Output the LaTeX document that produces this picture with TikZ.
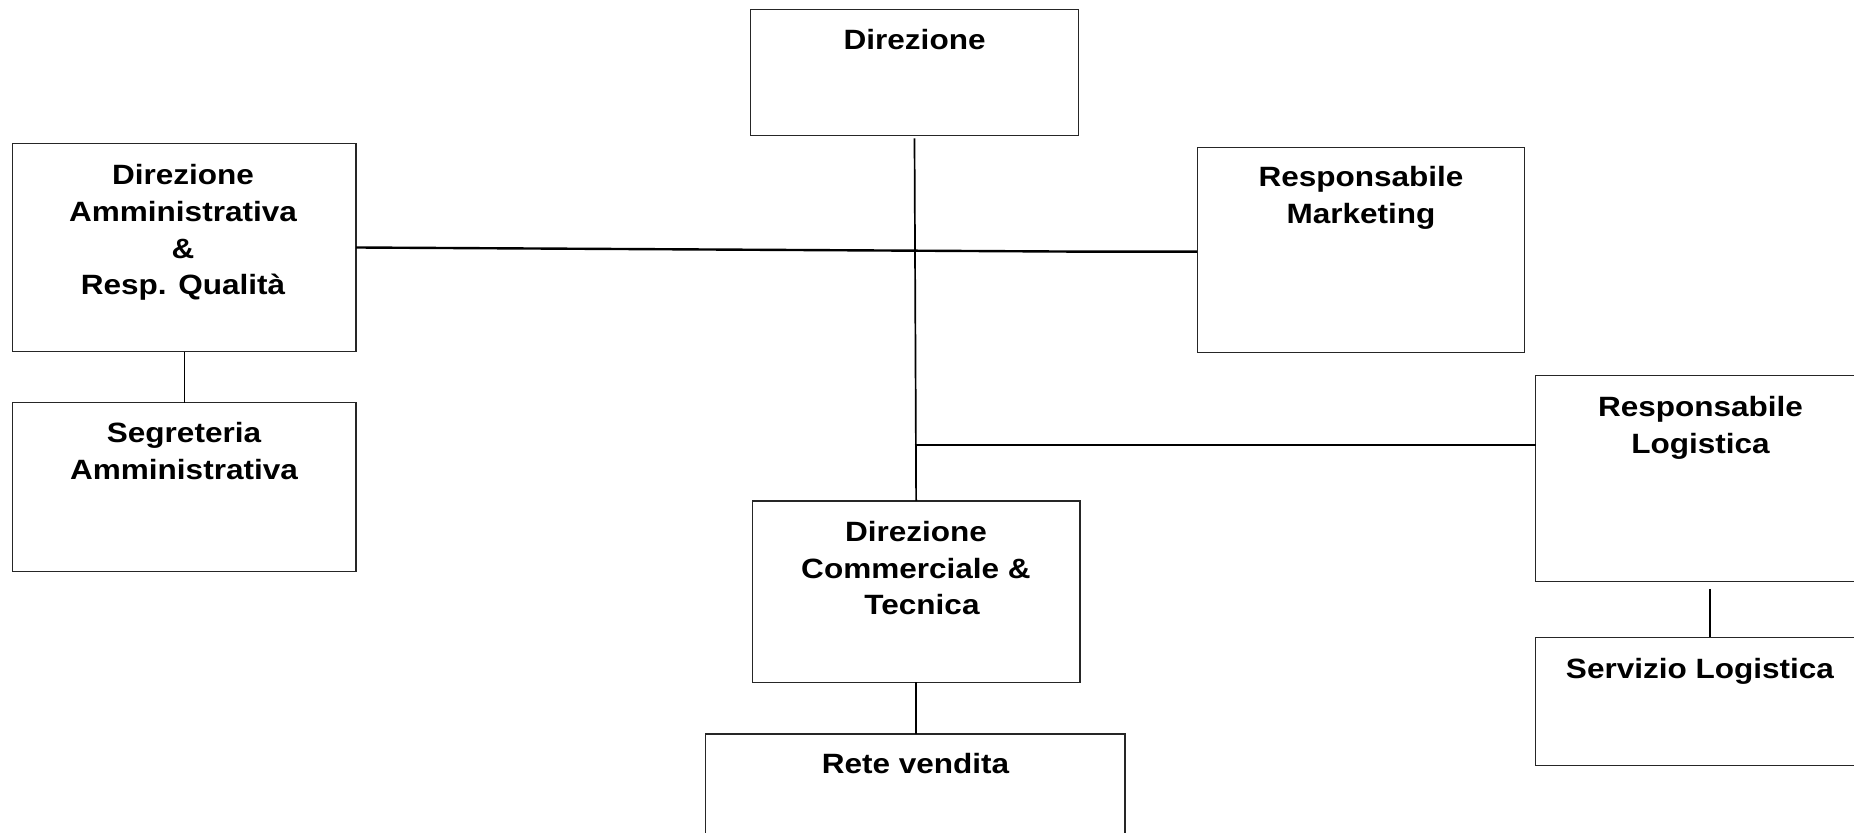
\documentclass[tikz,border=0pt]{standalone}
\usepackage{fontspec}
\newfontfamily\lab[FakeStretch=1.13]{Liberation Sans}
\usetikzlibrary{calc}
\begin{document}
\begin{tikzpicture}[x=0.5pt,y=-0.5pt,
  box/.style={draw=black!85, line width=0.65pt, inner sep=0pt, outer sep=0pt, anchor=north west},
  lbl/.style={anchor=base, align=center, inner sep=0pt, font=\lab\bfseries\fontsize{13.95pt}{18.35pt}\selectfont},
  conn/.style={draw=black, line width=0.85pt},
  hconn/.style={draw=black, line width=1.2pt}]
\useasboundingbox (0,0) rectangle (1854,833);
\clip (0,0) rectangle (1854,833);
% boxes
\node[box, minimum width={327.6*0.5pt}, minimum height={126*0.5pt}] (dir) at (750.7,9.3) {};
\node[box, minimum width={343.3*0.5pt}, minimum height={208.4*0.5pt}] (da) at (12.7,143.3) {};
\node[box, minimum width={343.3*0.5pt}, minimum height={169*0.5pt}] (sa) at (12.7,402.7) {};
\node[box, minimum width={327.5*0.5pt}, minimum height={204.9*0.5pt}] (rm) at (1197.2,147.8) {};
\node[box, minimum width={348.3*0.5pt}, minimum height={206*0.5pt}] (rl) at (1535.7,375.7) {};
\node[box, minimum width={348.3*0.5pt}, minimum height={128.4*0.5pt}] (sl) at (1535.7,637.3) {};
\node[box, minimum width={327.7*0.5pt}, minimum height={181.3*0.5pt}] (dc) at (752.3,501) {};
\node[box, minimum width={419.3*0.5pt}, minimum height={166*0.5pt}] (rv) at (705.7,734) {};
% labels (anchor = baseline of last line)
\node[lbl] (dirt) at (914.6,50) {Direzione};
\node[lbl] (dat) at (183,295) {Direzione\\Amministrativa\\\&\\Resp. Qualità};
\node[lbl] (sat) at (184,479.3) {Segreteria\\Amministrativa};
\node[lbl] (rmt) at (1361,223.3) {Responsabile\\Marketing};
\node[lbl] (rlt) at (1700.5,453.3) {Responsabile\\Logistica};
\node[lbl] (slt) at (1700,678.3) {Servizio Logistica};
\node[lbl] (dct) at (916,615) {Direzione\\Commerciale \&\\\hspace*{6pt}Tecnica};
\node[lbl] (rvt) at (915.5,773.3) {Rete vendita};
% connectors
\coordinate (top) at ($(dir.south)+(0,3)$);
\coordinate (jl) at (top |- 0,445);
\coordinate (kink) at (1091.7,251.7);
\coordinate (rlc) at (1710,589);
\draw[conn] (top) -- (dc.north);
\draw[hconn] (da.east) -- (kink) -- (kink -| rm.west);
\draw[hconn] (jl) -- (jl -| rl.west);
\draw[conn] (da.south) -- (sa.north);
\draw[conn] (dc.south) -- (dc.south |- rv.north);
\draw[conn] (rlc) -- (rlc |- sl.north);
\end{tikzpicture}
\end{document}
